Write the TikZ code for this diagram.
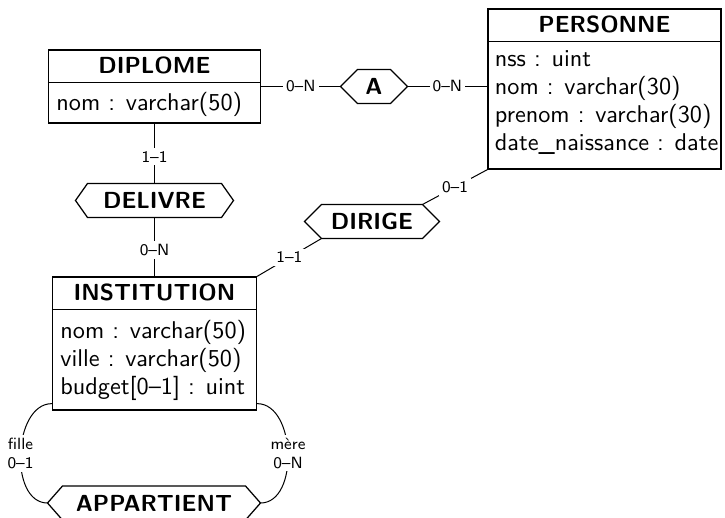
\documentclass[tikz,border=0pt]{standalone}
\usepackage{fontspec}
\usetikzlibrary{calc}
\newlength{\pxu}
\setlength{\pxu}{0.4pt}
\newcommand{\hexa}[2]{%
  \draw[hexline] (#1.west) -- ($(#1.north west)+(#2,0)$) -- ($(#1.north east)+(-#2,0)$) -- (#1.east)
    -- ($(#1.south east)+(-#2,0)$) -- ($(#1.south west)+(#2,0)$) -- cycle;}
\begin{document}
\begin{tikzpicture}[x=0.4pt,y=-0.4pt,
  font=\sffamily\fontsize{9.7}{11.2}\selectfont,
  entity/.style={draw, line width=0.5pt, inner sep=0pt},
  sepline/.style={line width=0.5pt},
  ttl/.style={inner sep=0pt, font=\sffamily\bfseries\fontsize{9.3}{12}\selectfont},
  attr/.style={anchor=base west, inner sep=0pt},
  rel/.style={inner sep=0pt, minimum height=33\pxu, font=\sffamily\bfseries\fontsize{9.3}{12}\selectfont},
  hexline/.style={line width=0.5pt},
  link/.style={line width=0.4pt},
  card/.style={fill=white, inner sep=1.2pt, align=center, font=\sffamily\fontsize{6.5}{7.5}\selectfont}]
\useasboundingbox (0,0) rectangle (725,518);

% DIPLOME
\node[entity, minimum width=212\pxu, minimum height=73\pxu] (dip) at (154.5,86.5) {};
\draw[sepline] ($(dip.north west)+(0,33)$) -- ($(dip.north east)+(0,33)$);
\node[ttl] (dipt) at ($(dip.north)+(0,16.5)$) {DIPLOME};
\node[attr] (dipa1) at ($(dip.north west)+(8,61)$) {nom : varchar(50)};

% PERSONNE
\node[entity, minimum width=233\pxu, minimum height=160\pxu] (per) at (604.5,89) {};
\draw[sepline] ($(per.north west)+(0,33)$) -- ($(per.north east)+(0,33)$);
\node[ttl] (pert) at ($(per.north)+(0,16.5)$) {PERSONNE};
\node[attr] (pera1) at ($(per.north west)+(7,58)$) {nss : uint};
\node[attr] (pera2) at ($(per.north west)+(7,86)$) {nom : varchar(30)};
\node[attr] (pera3) at ($(per.north west)+(7,114)$) {prenom : varchar(30)};
\node[attr] (pera4) at ($(per.north west)+(7,142)$) {date\_naissance : date};

% INSTITUTION
\node[entity, minimum width=204\pxu, minimum height=133\pxu] (inst) at (154.5,343.5) {};
\draw[sepline] ($(inst.north west)+(0,33)$) -- ($(inst.north east)+(0,33)$);
\node[ttl] (instt) at ($(inst.north)+(0,16.5)$) {INSTITUTION};
\node[attr] (insta1) at ($(inst.north west)+(8,62)$) {nom : varchar(50)};
\node[attr] (insta2) at ($(inst.north west)+(8,90)$) {ville : varchar(50)};
\node[attr] (insta3) at ($(inst.north west)+(8,118)$) {budget[0--1] : uint};

% Relationships
\node[rel, minimum width=66\pxu] (A) at (374,86.5) {A};
\hexa{A}{17}
\node[rel, minimum width=157\pxu] (del) at (154.5,200.5) {DELIVRE};
\hexa{del}{12}
\node[rel, minimum width=134\pxu] (dir) at (372,221.5) {DIRIGE};
\hexa{dir}{17}
\node[rel, minimum width=212\pxu] (app) at (154,503) {APPARTIENT};
\hexa{app}{15}

% Links
\draw[link] (dip.east) -- node[card]{0--N} (A.west);
\draw[link] (A.east) -- node[card]{0--N} (A.east -| per.west);
\draw[link] (dip.south) -- node[card, pos=0.55]{1--1} (del.north);
\draw[link] (del.south) -- node[card, pos=0.55]{0--N} (inst.north);
\draw[link] ($(dir.north east)+(-17,0)$) -- node[card]{0--1} (per.south west);
\draw[link] ($(dir.south west)+(17,0)$) -- node[card]{1--1} (inst.north east);
\draw[link] ($(inst.south west)+(0,-7)$) to[out=180,in=180] node[card]{fille\\0--1} (app.west);
\draw[link] ($(inst.south east)+(0,-7)$) to[out=0,in=0] node[card]{mère\\0--N} (app.east);
\end{tikzpicture}
\end{document}
